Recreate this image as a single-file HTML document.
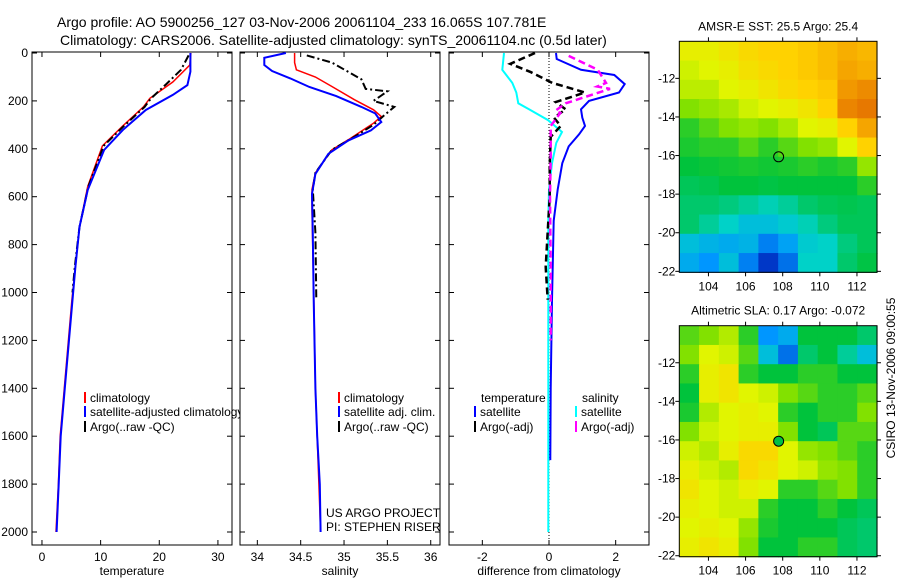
<!DOCTYPE html>
<html><head><meta charset="utf-8"><style>
body{margin:0;background:#fff;}
svg{display:block;font-family:"Liberation Sans",sans-serif;}
</style></head><body>
<svg id="fig" width="900" height="580" viewBox="0 0 900 580">
<text x="57" y="27" font-size="14">Argo profile: AO 5900256_127 03-Nov-2006 20061104_233 16.065S 107.781E</text>
<text x="60" y="45" font-size="14">Climatology: CARS2006. Satellite-adjusted climatology: synTS_20061104.nc (0.5d later)</text>
<g id="plots"></g>
</svg>
<script>
// ---------- DATA ----------
const depthTicks=[0,200,400,600,800,1000,1200,1400,1600,1800,2000];
const tempTicks=[0,10,20,30];
const salTicks=[34,34.5,35,35.5,36];
const diffTicks=[-2,0,2];
const latTicks=[-12,-14,-16,-18,-20,-22];
const lonTicks=[104,106,108,110,112];

const tClimDepth=[0,50,121,189,225,304,388,558,726,893,1031,1400,1600,1800,2000];
const tClimVal=[25.4,25.2,22.3,18.4,17.3,13.8,10.3,7.8,6.4,5.7,5.1,3.8,3.1,2.8,2.4];
const tSatDepth=[0,78,134,175,238,321,405,572,726,893,1031,1400,1600,1800,2000];
const tSatVal=[25.3,25.3,24.8,22.3,17.7,13.8,10.6,7.8,6.4,5.7,5.2,3.9,3.2,2.85,2.5];
const tArgoDepth=[10,70,130,189,225,304,388,558,726,893,1000];
const tArgoVal=[25.0,23.7,21.2,18.6,17.5,14.0,10.5,7.9,6.4,5.6,5.2];

const sClimDepth=[0,40,70,100,140,195,237,265,293,362,404,500,570,660,1000,1400,1800,2000];
const sClimVal=[34.43,34.43,34.45,34.67,34.86,35.12,35.34,35.43,35.34,35.05,34.86,34.67,34.63,34.63,34.65,34.67,34.71,34.73];
const sSatDepth=[0,20,50,75,106,142,180,225,252,288,323,365,421,505,588,755,1030,1400,1600,1800,2000];
const sSatVal=[34.33,34.08,34.08,34.17,34.38,34.6,34.91,35.2,35.36,35.43,35.31,35.05,34.82,34.67,34.63,34.64,34.65,34.67,34.69,34.72,34.73];
const sArgoDepth=[10,40,110,150,160,200,225,255,300,350,404,500,570,750,1030];
const sArgoVal=[34.57,34.86,35.2,35.25,35.5,35.34,35.58,35.48,35.34,35.12,34.86,34.67,34.64,34.67,34.68];

const dTSatDepth=[0,25,70,92,130,165,200,235,270,305,340,390,460,570,700,1030,1400,1700];
const dTSatVal=[0.21,0.23,0.96,1.96,2.27,2.1,1.2,0.96,1.0,1.08,0.9,0.59,0.4,0.26,0.14,0.09,0.05,0.04];
const dSSatDepth=[0,70,125,165,210,235,280,330,375,460,570,700,1400,2000];
const dSSatVal=[-1.35,-1.4,-1.1,-0.98,-0.92,-0.6,-0.03,0.39,0.22,0.09,0.0,-0.02,-0.02,-0.02];
const dTArgoDepth=[0,45,80,125,165,205,235,270,305,350,475,600,893,1030];
const dTArgoVal=[-0.42,-1.16,-0.54,0.1,1.08,0.2,0.5,0.15,0.35,0.05,0.02,0.02,-0.1,-0.04];
const dSArgoDepth=[12,70,125,140,150,210,240,250,305,430,600,900,1200];
const dSArgoVal=[0.59,1.46,1.71,1.45,1.83,0.5,0.2,0.34,0.05,0.05,0.03,0.05,0.05];

const sstGrid=[
[0.72,0.72,0.75,0.78,0.80,0.80,0.82,0.85,0.88,0.86],
[0.68,0.70,0.72,0.76,0.78,0.80,0.82,0.85,0.90,0.88],
[0.66,0.66,0.70,0.72,0.75,0.78,0.80,0.82,0.92,0.94],
[0.60,0.62,0.64,0.68,0.70,0.72,0.75,0.80,0.95,0.97],
[0.50,0.55,0.60,0.62,0.60,0.64,0.70,0.72,0.80,0.90],
[0.48,0.50,0.50,0.55,0.50,0.55,0.60,0.62,0.70,0.80],
[0.45,0.46,0.47,0.48,0.47,0.48,0.50,0.48,0.50,0.62],
[0.42,0.43,0.45,0.45,0.44,0.45,0.45,0.45,0.45,0.50],
[0.40,0.40,0.38,0.35,0.32,0.35,0.40,0.42,0.43,0.42],
[0.40,0.35,0.30,0.25,0.25,0.28,0.32,0.38,0.42,0.42],
[0.25,0.22,0.20,0.22,0.12,0.18,0.28,0.30,0.38,0.42],
[0.20,0.15,0.25,0.12,0.02,0.10,0.30,0.30,0.40,0.44]];
const slaGrid=[
[0.55,0.60,0.65,0.50,0.15,0.20,0.45,0.45,0.45,0.40],
[0.60,0.70,0.68,0.55,0.25,0.10,0.40,0.45,0.35,0.25],
[0.50,0.72,0.75,0.50,0.45,0.45,0.50,0.50,0.45,0.45],
[0.45,0.72,0.75,0.70,0.68,0.60,0.55,0.50,0.50,0.55],
[0.48,0.65,0.70,0.72,0.70,0.50,0.45,0.50,0.50,0.60],
[0.60,0.68,0.70,0.72,0.72,0.60,0.45,0.42,0.55,0.55],
[0.68,0.65,0.72,0.78,0.78,0.70,0.62,0.60,0.55,0.50],
[0.72,0.68,0.65,0.78,0.75,0.70,0.68,0.62,0.60,0.50],
[0.75,0.70,0.68,0.72,0.70,0.50,0.50,0.55,0.60,0.50],
[0.72,0.70,0.68,0.68,0.50,0.45,0.45,0.50,0.45,0.42],
[0.70,0.72,0.70,0.62,0.48,0.45,0.45,0.45,0.42,0.40],
[0.72,0.75,0.72,0.60,0.45,0.45,0.50,0.50,0.42,0.40]];
const argoLon=107.781, argoLat=-16.065;

// ---------- DRAWING ----------
const NS='http://www.w3.org/2000/svg';
const root=document.getElementById('plots');
function el(tag,attrs,parent){const e=document.createElementNS(NS,tag);for(const k in attrs)e.setAttribute(k,attrs[k]);(parent||root).appendChild(e);return e;}
const Y0=52,Y1=545;
const yD=d=>53+d*0.2395;

function panel(x0,x1,xmin,xmax,ticks,label,name,showY){
  const sx=v=>x0+(v-xmin)/(xmax-xmin)*(x1-x0);
  const bg=el('rect',{x:x0,y:Y0,width:x1-x0,height:Y1-Y0,fill:'#fff',stroke:'#000','stroke-width':1});
  
  
  ticks.forEach(t=>{
    const X=sx(t);
    el('line',{x1:X,x2:X,y1:Y0,y2:Y0+5,stroke:'#000'});
    el('line',{x1:X,x2:X,y1:Y1,y2:Y1-5,stroke:'#000'});
    const tx=el('text',{x:X,y:Y1+16,'font-size':12,'text-anchor':'middle'});tx.textContent=t;
    
    
  });
  depthTicks.forEach(d=>{
    const Y=yD(d);
    el('line',{x1:x0,x2:x0+5,y1:Y,y2:Y,stroke:'#000'});
    el('line',{x1:x1,x2:x1-5,y1:Y,y2:Y,stroke:'#000'});
    if(showY){const t=el('text',{x:x0-4,y:Y+4,'font-size':12,'text-anchor':'end'});t.textContent=d;
      
      }
  });
  const lt=el('text',{x:(x0+x1)/2,y:Y1+30,'font-size':12,'text-anchor':'middle'});lt.textContent=label;
  
  
  return sx;
}
function line(sx,vals,depths,color,w,dash,name){
  const pts=vals.map((v,i)=>sx(v).toFixed(1)+','+yD(depths[i]).toFixed(1)).join(' ');
  const p=el('polyline',{points:pts,fill:'none',stroke:color,'stroke-width':w});
  if(dash)p.setAttribute('stroke-dasharray',dash);
  
  
}
function legend(x,y,color,text,name){
  el('rect',{x:x,y:y-10,width:2,height:11,fill:color});
  const t=el('text',{x:x+6,y:y,'font-size':12});t.textContent=text;
  
  
}

// panel 1 temperature
const sxT=panel(32,232,-1.7,32.4,tempTicks,'temperature','temperature-panel',true);
line(sxT,tClimVal,tClimDepth,'#f00',1.5,null,'temp-climatology-line');
line(sxT,tArgoVal,tArgoDepth,'#000',2,'8,3,2,3','temp-argo-line');
line(sxT,tSatVal,tSatDepth,'#00f',2,null,'temp-satellite-line');
legend(84,402,'#f00','climatology','temp-legend-climatology');
legend(84,416,'#00f','satellite-adjusted climatology','temp-legend-satellite');
legend(84,431,'#000','Argo(..raw -QC)','temp-legend-argo');

// panel 2 salinity
const sxS=panel(240,440,33.8,36.107,salTicks,'salinity','salinity-panel',false);
line(sxS,sClimVal,sClimDepth,'#f00',1.5,null,'sal-climatology-line');
line(sxS,sArgoVal,sArgoDepth,'#000',2,'8,3,2,3','sal-argo-line');
line(sxS,sSatVal,sSatDepth,'#00f',2,null,'sal-satellite-line');
legend(338,402,'#f00','climatology','sal-legend-climatology');
legend(338,416,'#00f','satellite adj. clim.','sal-legend-satellite');
legend(338,431,'#000','Argo(..raw -QC)','sal-legend-argo');
[['US ARGO PROJECT',517],['PI: STEPHEN RISER',531]].forEach(a=>{const t=el('text',{x:326,y:a[1],'font-size':12});t.textContent=a[0];
  
  });

// panel 3 difference
const sxD=panel(449,649,-3.0,3.0,diffTicks,'difference from climatology','difference-panel',false);
el('line',{x1:sxD(0),x2:sxD(0),y1:Y0,y2:Y1,stroke:'#000','stroke-dasharray':'1,2'});
line(sxD,dSSatVal,dSSatDepth,'#0ff',2,null,'diff-sal-satellite-line');
line(sxD,dTSatVal,dTSatDepth,'#00f',2,null,'diff-temp-satellite-line');
line(sxD,dTArgoVal,dTArgoDepth,'#000',2.5,'7,4','diff-temp-argo-line');
line(sxD,dSArgoVal,dSArgoDepth,'#f0f',2.5,'7,4','diff-sal-argo-line');
[['temperature',481],['salinity',582]].forEach(a=>{const t=el('text',{x:a[1],y:402,'font-size':12});t.textContent=a[0];
  
  });
legend(474,416,'#00f','satellite','diff-legend-temp-satellite');
legend(474,431,'#000','Argo(-adj)','diff-legend-temp-argo');
legend(575,416,'#0ff','satellite','diff-legend-sal-satellite');
legend(575,431,'#f0f','Argo(-adj)','diff-legend-sal-argo');

// maps
const stops=[[0,[0,40,190]],[0.15,[0,150,255]],[0.3,[0,210,200]],[0.45,[0,195,60]],[0.6,[130,225,0]],[0.7,[225,245,0]],[0.8,[255,210,0]],[0.9,[245,165,0]],[1,[225,100,0]]];
function cmap(v){for(let i=1;i<stops.length;i++){if(v<=stops[i][0]){const a=stops[i-1],b=stops[i],f=(v-a[0])/(b[0]-a[0]);return 'rgb('+a[1].map((c,k)=>Math.round(c+(b[1][k]-c)*f)).join(',')+')';}}return 'rgb(225,100,0)';}
function map(grid,top,title,name,fillDot){
  const x0=679.3,x1=877,lonMin=102.43,lonMax=113.08,latTop=-10.08,latBot=-22.05,h=231;
  const y1=top+h;
  const sx=v=>x0+(v-lonMin)/(lonMax-lonMin)*(x1-x0);
  const sy=v=>top+(latTop-v)/(latTop-latBot)*h;
  const rows=grid.length,cols=grid[0].length,cw=(x1-x0)/cols,ch=h/rows;
  grid.forEach((row,r)=>row.forEach((v,c)=>{
    const cell=el('rect',{x:(x0+c*cw).toFixed(2),y:(top+r*ch).toFixed(2),width:(cw+0.6).toFixed(2),height:(ch+0.6).toFixed(2),fill:cmap(v)});
    
    
  }));
  const fr=el('rect',{x:x0,y:top,width:x1-x0,height:h,fill:'none',stroke:'#000'});
  
  
  lonTicks.forEach(l=>{const X=sx(l);
    el('line',{x1:X,x2:X,y1:top,y2:top-4,stroke:'#000'});el('line',{x1:X,x2:X,y1:y1,y2:y1+4,stroke:'#000'});
    const t=el('text',{x:X,y:y1+18,'font-size':12,'text-anchor':'middle'});t.textContent=l;
    
    });
  latTicks.forEach(l=>{const Y=sy(l);
    el('line',{x1:x0,x2:x0-4,y1:Y,y2:Y,stroke:'#000'});el('line',{x1:x1,x2:x1+4,y1:Y,y2:Y,stroke:'#000'});
    const t=el('text',{x:x0-4,y:Y+4,'font-size':12,'text-anchor':'end'});t.textContent=l;
    
    });
  const tt=el('text',{x:(x0+x1)/2,y:top-11,'font-size':12,'text-anchor':'middle'});tt.textContent=title;
  
  
  const c=el('circle',{cx:sx(argoLon),cy:sy(argoLat),r:5,fill:fillDot,stroke:'#000'});
  
  
}
map(sstGrid,41.3,'AMSR-E SST: 25.5 Argo: 25.4','sst-map','none');
map(slaGrid,325.7,'Altimetric SLA: 0.17 Argo: -0.072','sla-map','rgb(0,190,70)');
const cs=el('text',{x:0,y:0,'font-size':12,'text-anchor':'middle',transform:'translate(895,378) rotate(-90)'});
cs.textContent='CSIRO 13-Nov-2006 09:00:55';


</script>
</body></html>
